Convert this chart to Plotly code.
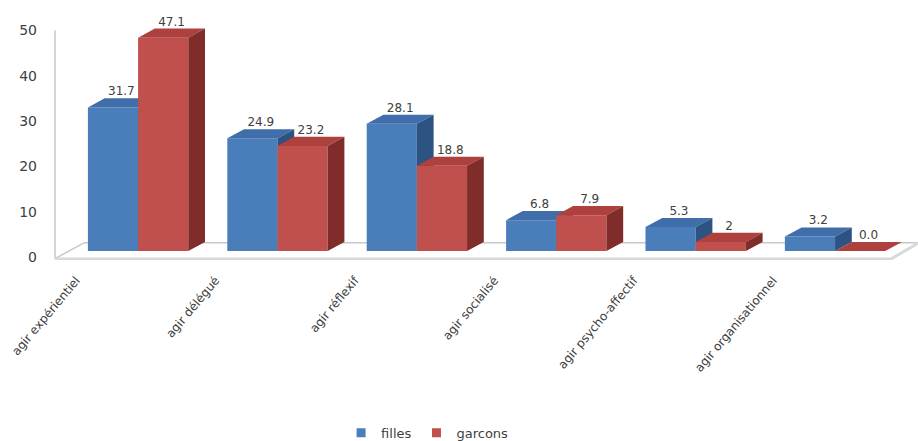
import plotly.graph_objects as go

categories = ["agir expérientiel", "agir délégué", "agir réflexif",
              "agir socialisé", "agir psycho-affectif", "agir organisationnel"]
filles = [31.7, 24.9, 28.1, 6.8, 5.3, 3.2]
garcons = [47.1, 23.2, 18.8, 7.9, 2.0, 0.0]
filles_labels = ["31.7", "24.9", "28.1", "6.8", "5.3", "3.2"]
garcons_labels = ["47.1", "23.2", "18.8", "7.9", "2", "0.0"]
y_ticks = [0, 10, 20, 30, 40, 50]

# pseudo-3D geometry (in axis units)
W = 0.36      # bar front width
DX = 0.12     # depth offset x
DY = 2.0      # depth offset y

series = [
    ("filles", filles, filles_labels, -W, "#4A7EBB", "#3F6EAA", "#2D5382"),
    ("garcons", garcons, garcons_labels, 0.0, "#C0504D", "#AE413E", "#7F2C2A"),
]

fig = go.Figure()


def poly_trace(xs_list, ys_list, color):
    X, Y = [], []
    for xs, ys in zip(xs_list, ys_list):
        X += xs + [None]
        Y += ys + [None]
    return go.Scatter(x=X, y=Y, fill="toself", fillcolor=color, mode="lines",
                      line=dict(width=0, color=color),
                      showlegend=False, hoverinfo="skip")


for name, vals, labels, off, c_front, c_top, c_side in series:
    fx, fy, tx, ty, sx, sy = [], [], [], [], [], []
    for i, v in enumerate(vals):
        x0 = i + off
        x1 = x0 + W
        fx.append([x0, x1, x1, x0]); fy.append([0, 0, v, v])
        tx.append([x0, x1, x1 + DX, x0 + DX]); ty.append([v, v, v + DY, v + DY])
        sx.append([x1, x1 + DX, x1 + DX, x1]); sy.append([0, DY, v + DY, v])
    fig.add_trace(poly_trace(fx, fy, c_front))
    fig.add_trace(poly_trace(tx, ty, c_top))
    fig.add_trace(poly_trace(sx, sy, c_side))
    fig.add_trace(go.Scatter(
        x=[i + off + W / 2 + DX / 2 for i in range(len(vals))],
        y=[v + DY for v in vals], mode="text", text=labels,
        textposition="top center", showlegend=False, hoverinfo="skip",
        cliponaxis=False,
        textfont=dict(family="DejaVu Sans", size=12, color="#404040")))
    # legend entry (square swatch)
    fig.add_trace(go.Scatter(x=[None], y=[None], mode="markers", name=name,
                             marker=dict(symbol="square", size=9, color=c_front),
                             showlegend=True))

# floor and wall frame
edge = "#C8C8C8"
shapes = [
    dict(type="line", x0=-0.596, x1=-0.596, y0=-1.7, y1=48.7, line=dict(color=edge, width=1.5)),
    dict(type="line", x0=-0.596, x1=-0.388, y0=-1.7, y1=1.8, line=dict(color=edge, width=1.5)),
    dict(type="line", x0=-0.388, x1=5.6, y0=1.8, y1=1.8, line=dict(color=edge, width=1.5)),
    dict(type="line", x0=-0.596, x1=5.394, y0=-1.9, y1=-1.9, line=dict(color="#D9D9D9", width=4)),
    dict(type="line", x0=5.394, x1=5.6, y0=-1.9, y1=1.8, line=dict(color="#D9D9D9", width=3)),
]

fig.update_layout(
    width=918, height=441,
    margin=dict(l=50, r=0, t=20, b=181, autoexpand=False),
    paper_bgcolor="white", plot_bgcolor="white",
    shapes=[dict(s, layer="below") for s in shapes],
    xaxis=dict(range=[-0.632, 5.595], tickvals=list(range(len(categories))),
               ticktext=categories, tickangle=-50, showgrid=False,
               zeroline=False, showline=False, ticks="",
               ticklabelshift=-62, ticklabelstandoff=10,
               tickfont=dict(family="DejaVu Sans", size=12, color="#404040")),
    yaxis=dict(range=[-2, 51], tickvals=y_ticks, showgrid=False,
               zeroline=False, showline=False, ticks="",
               ticklabelshift=6, ticklabelstandoff=12,
               tickfont=dict(family="DejaVu Sans", size=14, color="#404040")),
    legend=dict(orientation="h", x=0.435, xanchor="center", y=-0.72,
                yanchor="middle", itemwidth=30,
                font=dict(family="DejaVu Sans", size=13, color="#404040")),
    showlegend=True,
)

fig.write_html("out.html")
